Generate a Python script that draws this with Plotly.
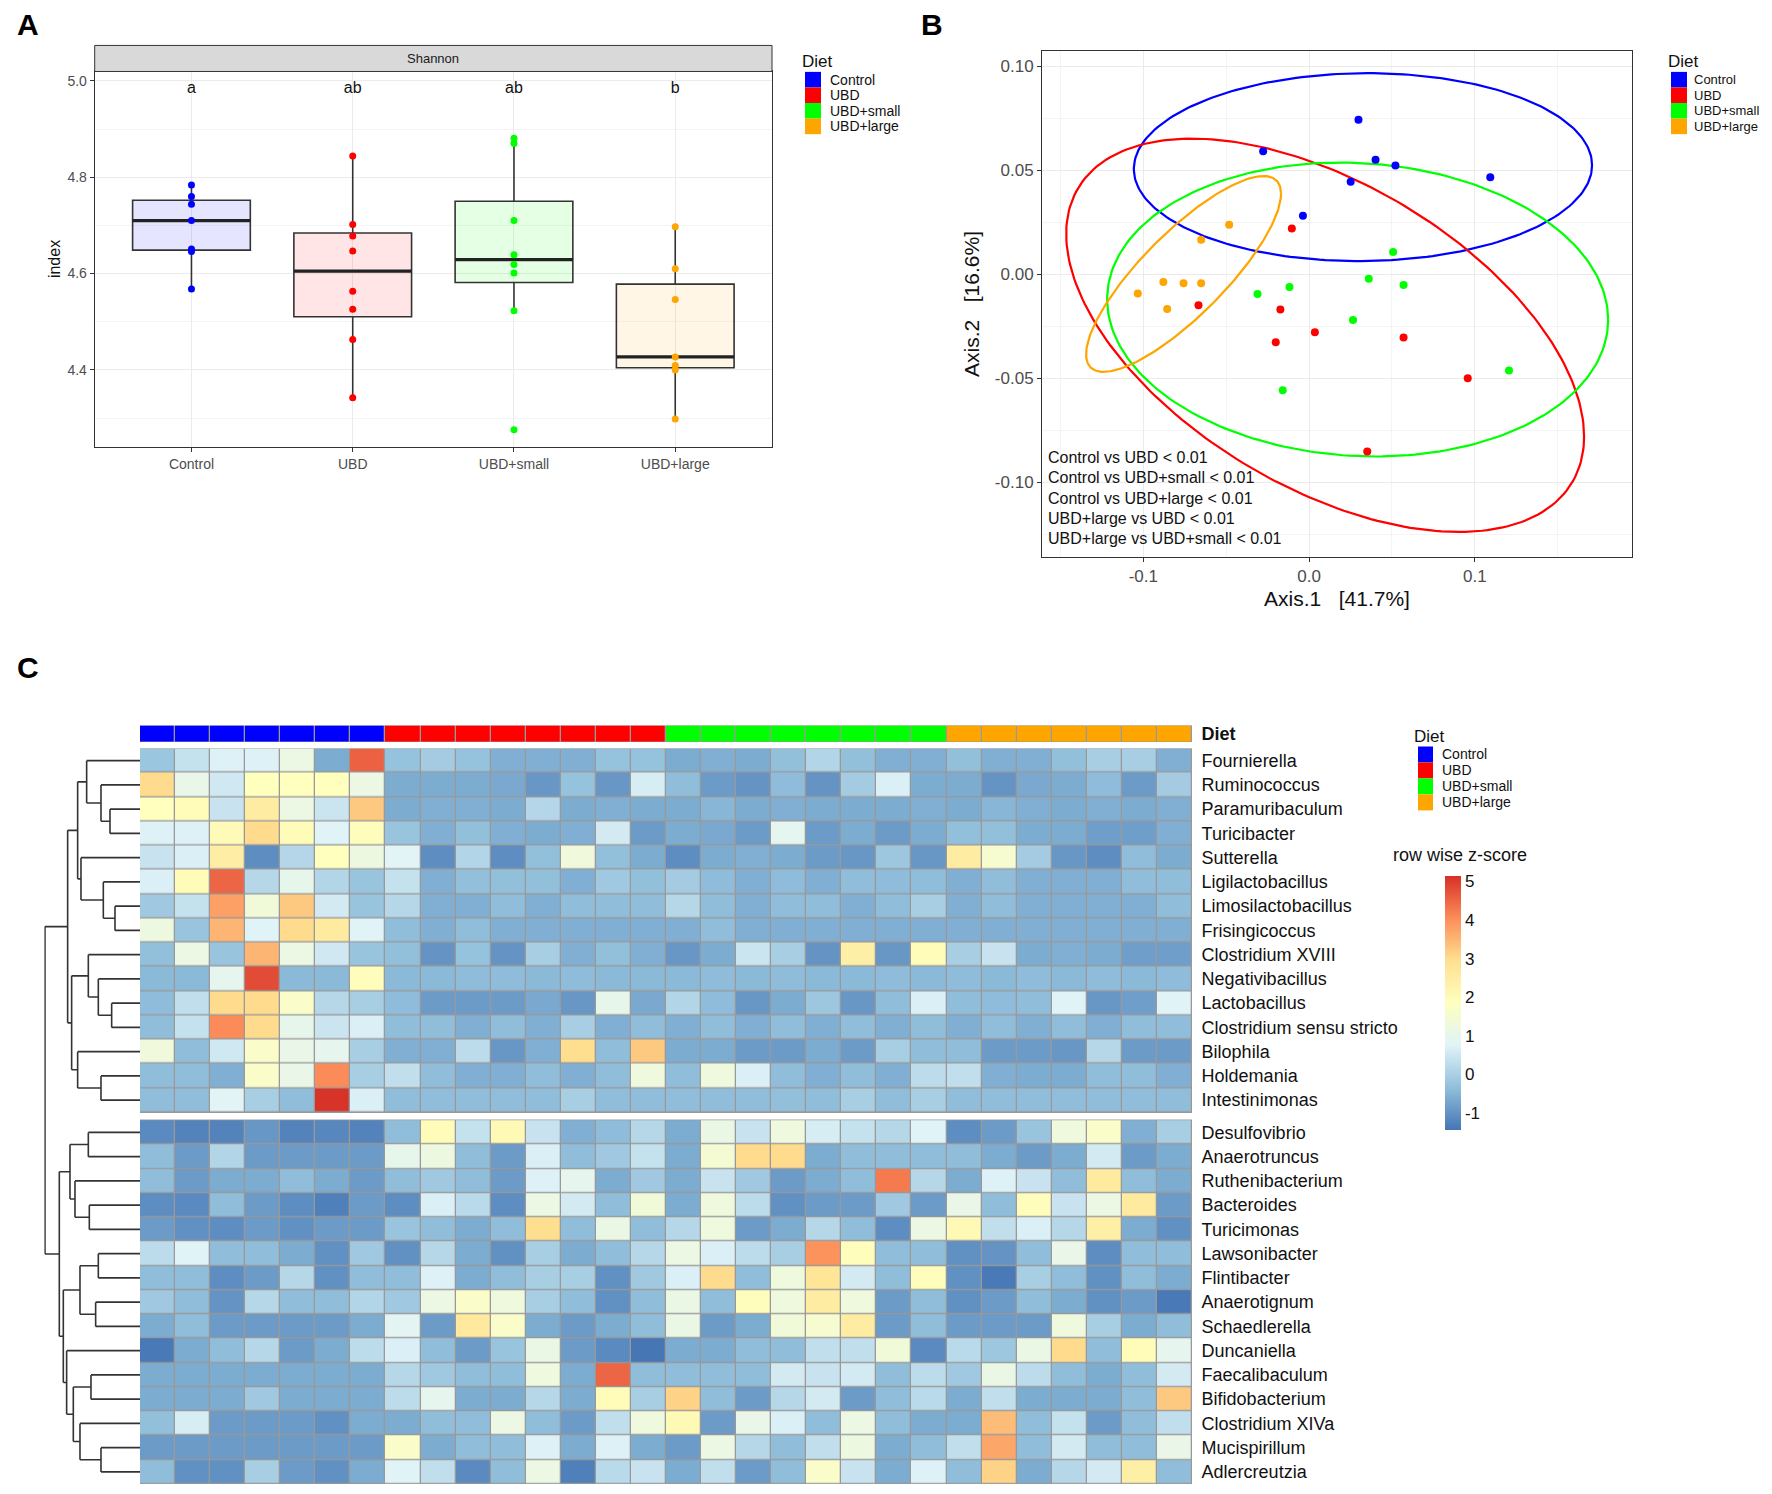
import numpy as np
import plotly.graph_objects as go

W, H = 1772, 1494          # browser window
PAGE_MARGIN = 8            # default <body> margin of the written page
FW, FH = W - 2 * PAGE_MARGIN, H - 2 * PAGE_MARGIN
FONT = "Liberation Sans, Arial, Helvetica, sans-serif"

# ---------------- shared groups ----------------
groups = ["Control", "UBD", "UBD+small", "UBD+large"]
group_colors = ["#0000FF", "#FF0000", "#00FF00", "#FFA500"]
box_fill = ["rgba(0,0,255,0.10)", "rgba(255,0,0,0.10)",
            "rgba(0,255,0,0.10)", "rgba(255,165,0,0.10)"]

# ---------------- Panel A data (Shannon index) ----------------
shannon_control = [4.784, 4.760, 4.744, 4.710, 4.651, 4.646, 4.568]
shannon_ubd = [4.844, 4.702, 4.678, 4.647, 4.563, 4.526, 4.463, 4.342]
shannon_small = [4.881, 4.870, 4.710, 4.639, 4.619, 4.601, 4.523, 4.276]
shannon_large = [4.697, 4.610, 4.546, 4.427, 4.409, 4.400, 4.298]
sig_letters = ["a", "ab", "ab", "b"]
sig_letter_y = 4.982
shannon_yticks = [4.4, 4.6, 4.8, 5.0]

# ---------------- Panel B data (PCoA) ----------------
pcoa_x_control = [0.0298, -0.0277, 0.0401, 0.0521, 0.0251, 0.1093, -0.0037]
pcoa_y_control = [0.0744, 0.0592, 0.0551, 0.0524, 0.0446, 0.0467, 0.0282]
pcoa_x_ubd = [-0.0104, -0.0667, -0.0173, -0.0201, 0.0035, 0.0570, 0.0957, 0.0351]
pcoa_y_ubd = [0.0221, -0.0148, -0.0169, -0.0326, -0.0279, -0.0304, -0.0500, -0.0852]
pcoa_x_small = [0.0507, 0.0360, 0.0570, -0.0118, -0.0311, 0.0265, 0.1206, -0.0159]
pcoa_y_small = [0.0108, -0.0021, -0.0051, -0.0061, -0.0094, -0.0220, -0.0462, -0.0557]
pcoa_x_large = [-0.0482, -0.0651, -0.0879, -0.0757, -0.0651, -0.1033, -0.0856]
pcoa_y_large = [0.0239, 0.0167, -0.0037, -0.0043, -0.0043, -0.0092, -0.0167]
# 95% ellipses: centre, half x-extent, half y-extent, correlation
ell_cx = [0.0325, 0.0097, 0.0293, -0.0757]
ell_cy = [0.0516, -0.0293, -0.0169, 0.0002]
ell_w = [0.1382, 0.1562, 0.1511, 0.0588]
ell_h = [0.0452, 0.0946, 0.0707, 0.0471]
ell_rho = [0.02, -0.515, -0.07, 0.82]
pcoa_stats = ["Control vs UBD < 0.01",
              "Control vs UBD+small < 0.01",
              "Control vs UBD+large < 0.01",
              "UBD+large vs UBD < 0.01",
              "UBD+large vs UBD+small < 0.01"]
axis1_label = "Axis.1\u00a0\u00a0\u00a0[41.7%]"
axis2_label = "Axis.2\u00a0\u00a0\u00a0[16.6%]"
pcoa_xticks = [-0.1, 0.0, 0.1]
pcoa_yticks = [-0.10, -0.05, 0.0, 0.05, 0.10]

# ---------------- Panel C data (heatmap) ----------------
sample_diet = ["Control"] * 7 + ["UBD"] * 8 + ["UBD+small"] * 8 + ["UBD+large"] * 7
genus_upper = ["Fournierella", "Ruminococcus", "Paramuribaculum", "Turicibacter",
               "Sutterella", "Ligilactobacillus", "Limosilactobacillus",
               "Frisingicoccus", "Clostridium XVIII", "Negativibacillus",
               "Lactobacillus", "Clostridium sensu stricto", "Bilophila",
               "Holdemania", "Intestinimonas"]
genus_lower = ["Desulfovibrio", "Anaerotruncus", "Ruthenibacterium", "Bacteroides",
               "Turicimonas", "Lawsonibacter", "Flintibacter", "Anaerotignum",
               "Schaedlerella", "Duncaniella", "Faecalibaculum", "Bifidobacterium",
               "Clostridium XIVa", "Mucispirillum", "Adlercreutzia"]
z_upper = [
    [-0.22, 0.35, 0.7, 0.7, 1.15, -0.65, 4.55, -0.3, -0.1, -0.3, -0.6, -0.6, -0.6, -0.3, -0.3, -0.65, -0.6, -0.65, -0.35, 0.1, -0.35, -0.6, -0.6, -0.35, -0.6, -0.6, -0.35, -0.05, -0.05, -0.6],
    [3.0, 1.05, 0.5, 1.85, 1.85, 1.85, 1.15, -0.65, -0.65, -0.65, -0.7, -0.95, -0.3, -0.95, 0.6, -0.38, -0.9, -1.0, -0.4, -1.0, -0.1, 0.65, -0.65, -0.65, -1.0, -0.7, -0.65, -0.4, -0.9, -0.1],
    [1.85, 1.95, 0.4, 2.5, 1.15, 0.45, 3.25, -0.65, -0.6, -0.6, -0.65, 0.12, -0.65, -0.6, -0.65, -0.65, -0.5, -0.65, -0.6, -0.65, -0.65, -0.65, -0.6, -0.65, -0.5, -0.6, -0.65, -0.6, -0.65, -0.6],
    [0.7, 0.7, 2.0, 3.0, 1.95, 0.75, 1.9, -0.25, -0.6, -0.35, -0.6, -0.65, -0.6, 0.55, -0.9, -0.65, -0.7, -0.9, 0.9, -0.9, -0.65, -0.9, -0.65, -0.35, -0.35, -0.65, -0.65, -0.85, -0.85, -0.6],
    [0.4, 0.65, 2.45, -1.1, 0.12, 1.85, 1.2, 0.8, -1.1, 0.1, -1.1, -0.35, 1.3, -0.35, -0.65, -1.1, -0.65, -0.6, -0.65, -0.9, -0.95, -0.2, -0.95, 2.5, 1.5, -0.1, -0.95, -1.1, -0.38, -0.65],
    [0.65, 1.95, 4.5, 0.14, 1.0, 0.1, -0.25, 0.35, -0.6, -0.35, -0.35, -0.35, -0.6, -0.15, -0.35, -0.1, -0.4, -0.6, -0.4, -0.6, -0.38, -0.4, -0.38, -0.6, -0.38, -0.6, -0.6, -0.6, -0.38, -0.38],
    [-0.15, 0.35, 3.78, 1.35, 3.25, 0.55, -0.25, 0.14, -0.6, -0.6, -0.38, -0.6, -0.38, -0.38, -0.38, 0.14, -0.38, -0.6, -0.38, -0.38, -0.6, -0.38, -0.05, -0.6, -0.38, -0.6, -0.6, -0.6, -0.6, -0.38],
    [1.2, -0.25, 3.5, 0.75, 3.0, 2.55, 0.75, -0.38, -0.6, -0.38, -0.6, -0.6, -0.6, -0.6, -0.6, -0.6, -0.38, -0.6, -0.6, -0.6, -0.6, -0.6, -0.6, -0.6, -0.6, -0.6, -0.6, -0.6, -0.6, -0.6],
    [-0.35, 1.15, -0.25, 3.5, 1.15, 0.5, -0.25, -0.35, -1.0, -0.3, -1.0, -0.05, -0.6, -0.35, -0.6, -0.95, -0.65, 0.45, -0.05, -1.0, 2.4, -0.95, 1.95, -0.05, 0.4, -0.65, -0.6, -0.65, -0.85, -0.85],
    [-0.45, -0.45, 0.95, 4.8, -0.45, -0.45, 1.9, -0.45, -0.45, -0.4, -0.4, -0.45, -0.4, -0.45, -0.45, -0.45, -0.4, -0.45, -0.4, -0.45, -0.45, -0.4, -0.45, -0.4, -0.45, -0.4, -0.45, -0.4, -0.45, -0.4],
    [-0.4, 0.3, 3.0, 3.0, 1.65, 0.14, -0.05, -0.4, -0.9, -0.9, -0.9, -0.7, -0.95, 1.0, -0.7, 0.1, -0.4, -0.95, -0.65, -0.2, -0.95, -0.38, 0.65, -0.38, -0.4, -0.38, 0.75, -0.95, -0.85, 0.75],
    [-0.38, 0.35, 4.05, 3.0, 1.0, 0.45, 0.65, -0.38, -0.38, -0.6, -0.38, -0.6, -0.05, -0.6, -0.38, -0.6, -0.38, -0.6, -0.38, -0.6, -0.38, -0.6, -0.38, -0.6, -0.38, -0.6, -0.38, -0.6, -0.38, -0.38],
    [1.3, -0.38, 0.5, 1.65, 1.05, 0.95, -0.05, -0.6, -0.6, 0.25, -0.95, -0.6, 2.95, -0.38, 3.25, -0.65, -0.65, -0.9, -0.9, -0.65, -0.9, -0.05, -0.38, -0.38, -0.9, -0.9, -0.95, 0.14, -0.9, -0.9],
    [-0.38, -0.38, -0.6, 1.65, 1.05, 4.05, -0.05, 0.3, -0.38, -0.6, -0.6, -0.38, -0.6, -0.38, 1.25, -0.38, 1.25, 0.65, -0.38, -0.6, -0.38, -0.6, 0.25, 0.3, -0.6, -0.65, -0.65, -0.38, -0.38, -0.6],
    [-0.38, -0.38, 0.8, -0.05, -0.38, 5.1, 0.65, -0.38, -0.38, -0.38, -0.38, -0.38, -0.05, -0.38, -0.38, -0.38, -0.38, -0.38, -0.35, -0.38, -0.05, -0.38, -0.05, -0.38, -0.38, -0.38, -0.38, -0.38, -0.38, -0.38],
]
z_lower = [
    [-1.15, -1.25, -1.25, -0.95, -1.25, -1.2, -1.25, -0.38, 1.95, 0.35, 2.05, 0.4, -0.6, -0.4, 0.14, -0.65, 1.1, 0.4, 1.25, 0.6, 0.35, 0.14, 0.75, -1.1, -0.9, -0.25, 1.25, 1.65, -0.6, -0.05],
    [-0.38, -0.9, 0.1, -0.9, -0.9, -0.9, -0.9, 1.0, 1.2, -0.38, -0.9, 0.65, -0.38, -0.15, 0.35, -0.65, 1.45, 3.0, 3.0, -0.65, -0.38, -0.38, -0.38, -0.38, -0.65, -0.9, -0.65, 0.55, -0.9, -0.65],
    [-0.38, -0.9, -0.65, -0.65, -0.38, -0.65, -0.9, -0.38, -0.15, -0.38, -0.9, 0.7, 0.95, -0.65, -0.15, -0.65, 0.4, -0.15, -0.9, -0.65, -0.38, 4.25, 0.14, -0.65, 0.7, 0.4, -0.38, 2.55, -0.38, -0.65],
    [-1.1, -1.15, -0.38, -0.9, -1.1, -1.3, -0.9, -1.1, 0.65, 0.2, -1.1, 1.15, 0.55, -0.38, 1.35, -0.65, 1.25, 0.25, -1.05, -0.9, -0.9, -0.15, -0.9, 1.05, -0.38, 1.9, 0.4, 1.15, 2.55, -0.9],
    [-0.9, -1.05, -1.1, -0.9, -1.05, -0.9, -0.9, -0.25, -0.38, -0.65, -0.38, 2.95, -0.38, 1.1, -0.38, 0.14, 1.25, -0.9, -0.65, 0.14, -0.38, -1.1, 1.15, 2.05, 0.3, 0.65, 0.14, 2.4, -0.65, -1.05],
    [0.25, 0.75, -0.38, -0.38, -0.65, -1.05, -0.15, -1.05, 0.14, -0.65, -1.05, -0.05, -0.65, -0.38, 0.14, 1.15, 0.65, 0.25, -0.05, 3.95, 1.9, -0.38, -0.38, -1.05, -1.0, -0.38, 1.05, -1.1, -0.38, -0.38],
    [-0.38, -0.38, -1.1, -0.9, 0.14, -1.05, -0.38, -0.38, 0.7, -0.65, -0.38, -0.05, -0.05, -1.05, -0.15, 0.65, 3.0, -0.38, 1.25, 2.75, 0.55, -0.38, 1.9, -1.05, -1.4, -0.05, -0.38, -1.05, -0.38, -0.65],
    [-0.15, -0.38, -1.0, 0.14, -0.38, -0.38, 0.1, -0.15, 1.15, 1.65, 1.25, -0.05, -0.38, -1.05, -0.38, 1.1, -0.38, 1.9, 1.25, 2.5, 1.25, -0.9, -0.38, -1.05, -0.9, -0.38, -0.65, -1.05, -0.9, -1.4],
    [-0.65, -0.38, -0.9, -0.9, -0.9, -0.9, -0.65, 0.85, -0.9, 2.6, 1.65, -0.65, -0.9, -0.65, -0.38, 1.1, -0.9, -0.65, 1.35, 1.5, 2.5, -0.9, -0.38, -0.9, -0.9, -0.9, 1.25, -0.05, -0.65, -0.38],
    [-1.4, -0.65, -0.38, 0.14, -0.9, -0.65, 0.25, 0.65, -0.38, -0.9, -0.25, 1.1, -0.9, -1.15, -1.45, -0.65, -0.65, -0.38, -0.38, 0.3, 0.3, 1.35, -1.15, 0.2, -0.2, 1.1, 3.0, -0.38, 1.95, 0.95],
    [-0.65, -0.65, -0.65, -0.65, -0.65, -0.65, -0.65, 0.14, -0.15, -0.38, -0.38, 1.25, -0.65, 4.5, -0.38, -0.38, -0.38, -0.38, 0.55, 0.4, 0.55, -0.38, 0.25, -0.15, 1.1, 0.25, -0.38, -0.65, -0.38, 0.55],
    [-0.65, -0.65, -0.65, -0.15, -0.65, -0.65, -0.65, 0.25, 0.95, -0.65, -0.65, 0.14, -0.65, 1.95, -0.05, 3.1, -0.38, -0.9, 0.14, 0.55, -0.9, -0.38, 0.2, -0.65, 0.3, -0.65, -0.65, -0.65, -0.38, 3.25],
    [-0.35, 0.6, -0.9, -0.9, -0.9, -1.05, -0.65, -0.65, -0.38, -0.38, 1.15, -0.38, -0.9, 0.3, 1.25, 2.05, -0.9, 1.05, 0.65, -0.38, 1.15, -0.38, -0.65, -0.65, 3.4, -0.38, 0.35, -0.9, -0.38, 0.3],
    [-0.9, -0.9, -0.9, -0.9, -0.9, -0.9, -0.9, 1.65, -0.65, -0.38, -0.38, 0.7, -0.65, 0.7, -0.65, -0.9, 1.15, 0.14, -0.38, 0.3, 1.2, -0.65, -0.38, 0.3, 3.7, -0.38, 0.55, -0.38, -0.38, 1.05],
    [-0.38, -1.05, -1.05, -0.05, -0.9, -1.05, -0.65, 0.75, 0.3, -1.15, -0.38, 1.15, -1.3, 0.2, 0.4, -0.65, 0.3, -0.9, -0.38, 1.65, 0.4, -0.65, 0.7, -0.38, 3.1, -0.65, 0.14, 0.55, 2.4, -0.38],
]
# row dendrogram as a merge list: (child a, child b, height); leaves 0..29, new nodes 30..
row_merges = [
    (2, 3, 90), (1, 30, 117), (0, 31, 160), (6, 7, 75), (5, 33, 110), (4, 34, 177),
    (32, 35, 187), (10, 11, 85), (9, 37, 125), (8, 38, 155), (13, 14, 117),
    (12, 40, 187), (39, 41, 205), (36, 42, 217),
    (15, 16, 155), (18, 19, 152), (17, 45, 195), (44, 46, 210), (20, 21, 125),
    (22, 23, 133), (48, 49, 180), (25, 26, 147), (28, 29, 117), (27, 52, 180),
    (51, 53, 200), (24, 54, 220), (50, 55, 230), (47, 56, 242), (43, 57, 285),
]
zscore_min, zscore_max = -1.46, 5.13
zscore_ticks = [-1, 0, 1, 2, 3, 4, 5]
heat_colors = ["#4575B4", "#91BFDB", "#E0F3F8", "#FFFFBF", "#FEE090", "#FC8D59", "#D73027"]


# ---------------- helpers: page pixel -> paper fraction ----------------
def px(x):
    return (x - PAGE_MARGIN) / FW


def py(y):
    return 1 - (y - PAGE_MARGIN) / FH


fig = go.Figure()
shapes = []
annotations = []


def note(text, x, y, size, xanchor="center", yanchor="middle", angle=0, color="#111111"):
    annotations.append(dict(text=text, x=px(x), y=py(y), xref="paper", yref="paper",
                            xanchor=xanchor, yanchor=yanchor, showarrow=False,
                            textangle=angle, font=dict(size=size, color=color)))


# ================= Panel A =================
for i, vals in enumerate([shannon_control, shannon_ubd, shannon_small, shannon_large]):
    v = np.array(vals)
    q1, med, q3 = np.percentile(v, [25, 50, 75])
    iqr = q3 - q1
    lf = v[v >= q1 - 1.5 * iqr].min()
    uf = v[v <= q3 + 1.5 * iqr].max()
    fig.add_trace(go.Box(x=[i], q1=[q1], median=[med], q3=[q3], lowerfence=[lf],
                         upperfence=[uf], width=0.73, whiskerwidth=0,
                         fillcolor=box_fill[i], line=dict(color="#333333", width=1.6),
                         boxpoints=False, showlegend=False, hoverinfo="skip",
                         xaxis="x", yaxis="y"))
    fig.add_trace(go.Scatter(x=[i - 0.365, i + 0.365], y=[med, med], mode="lines",
                             line=dict(color="#222222", width=3.2), showlegend=False,
                             hoverinfo="skip", xaxis="x", yaxis="y"))
for i, vals in enumerate([shannon_control, shannon_ubd, shannon_small, shannon_large]):
    fig.add_trace(go.Scatter(x=[i] * len(vals), y=vals, mode="markers",
                             marker=dict(color=group_colors[i], size=7),
                             showlegend=False, xaxis="x", yaxis="y"))
fig.add_trace(go.Scatter(x=list(range(4)), y=[sig_letter_y] * 4, text=sig_letters,
                         mode="text", textfont=dict(size=16, color="#111111"),
                         showlegend=False, xaxis="x", yaxis="y"))

A_x0, A_x1, A_y0, A_y1 = 94.7, 772.0, 70.6, 446.6
grid_major = "#EBEBEB"
grid_minor = "#F4F4F4"
axis_common = dict(showline=True, mirror=True, linecolor="#333333", linewidth=1,
                   zeroline=False, ticks="outside", ticklen=4, tickcolor="#333333",
                   gridcolor=grid_major, gridwidth=1.1)
fig.update_layout(
    xaxis=dict(domain=[px(A_x0), px(A_x1)], range=[-0.6, 3.6], tickvals=list(range(4)),
               ticktext=groups, tickfont=dict(size=14, color="#4D4D4D"),
               anchor="y", **axis_common),
    yaxis=dict(domain=[py(A_y1), py(A_y0)], range=[4.2406, 5.0194],
               tickvals=shannon_yticks, ticktext=[f"{t:.1f}" for t in shannon_yticks],
               tickfont=dict(size=14, color="#4D4D4D"), anchor="x",
               minor=dict(tickvals=[4.3, 4.5, 4.7, 4.9], showgrid=True,
                          gridcolor=grid_minor, gridwidth=0.7),
               **axis_common),
)
# facet strip
shapes.append(dict(type="rect", xref="paper", yref="paper", x0=px(A_x0), x1=px(A_x1),
                   y0=py(A_y0), y1=py(44.5), fillcolor="#D9D9D9",
                   line=dict(color="#333333", width=1)))
note("Shannon", (A_x0 + A_x1) / 2, 57.5, 13, color="#1A1A1A")
note("index", 54, (A_y0 + A_y1) / 2, 16, angle=-90)

# ================= Panel B =================
pcoa_sets = [(pcoa_x_control, pcoa_y_control), (pcoa_x_ubd, pcoa_y_ubd),
             (pcoa_x_small, pcoa_y_small), (pcoa_x_large, pcoa_y_large)]
t = np.linspace(0, 2 * np.pi, 240)
for i in range(4):
    ex = ell_cx[i] + ell_w[i] * np.cos(t)
    ey = ell_cy[i] + ell_h[i] * (ell_rho[i] * np.cos(t) + np.sqrt(1 - ell_rho[i] ** 2) * np.sin(t))
    fig.add_trace(go.Scatter(x=ex, y=ey, mode="lines",
                             line=dict(color=group_colors[i], width=2.2),
                             showlegend=False, hoverinfo="skip", xaxis="x2", yaxis="y2"))
for i, (xs_, ys_) in enumerate(pcoa_sets):
    fig.add_trace(go.Scatter(x=xs_, y=ys_, mode="markers",
                             marker=dict(color=group_colors[i], size=8),
                             showlegend=False, xaxis="x2", yaxis="y2"))

B_x0, B_x1, B_y0, B_y1 = 1042.0, 1632.0, 50.0, 557.0
fig.update_layout(
    xaxis2=dict(domain=[px(B_x0), px(B_x1)], range=[-0.1611, 0.1948],
                tickvals=pcoa_xticks, ticktext=[f"{v:.1f}" for v in pcoa_xticks],
                tickfont=dict(size=17, color="#4D4D4D"), anchor="y2",
                minor=dict(tickvals=[-0.15, -0.05, 0.05, 0.15], showgrid=True,
                           gridcolor=grid_minor, gridwidth=0.7),
                **axis_common),
    yaxis2=dict(domain=[py(B_y1), py(B_y0)], range=[-0.1359, 0.1075],
                tickvals=pcoa_yticks, ticktext=[f"{v:.2f}" for v in pcoa_yticks],
                tickfont=dict(size=17, color="#4D4D4D"), anchor="x2",
                minor=dict(tickvals=[-0.125, -0.075, -0.025, 0.025, 0.075], showgrid=True,
                           gridcolor=grid_minor, gridwidth=0.7),
                **axis_common),
)
note(axis1_label, (B_x0 + B_x1) / 2, 599, 21)
note(axis2_label, 972, (B_y0 + B_y1) / 2, 21, angle=-90)
for k, line in enumerate(pcoa_stats):
    note(line, 1046, 457 + k * 20.5, 16, xanchor="left")

# ================= Panel C =================
n_cols = len(sample_diet)
cols = list(range(n_cols))
gap = 0.33
pos_upper = list(range(len(genus_upper)))
pos_lower = [len(genus_upper) + gap + i for i in range(len(genus_lower))]
y_range = [pos_lower[-1] + 0.5, -0.5]

# annotation bar
diet_code = [groups.index(d) for d in sample_diet]
disc_scale = [[0, group_colors[0]], [0.25, group_colors[0]], [0.25, group_colors[1]],
              [0.5, group_colors[1]], [0.5, group_colors[2]], [0.75, group_colors[2]],
              [0.75, group_colors[3]], [1, group_colors[3]]]
fig.add_trace(go.Heatmap(z=[diet_code], x=cols, y=[0], zmin=-0.5, zmax=3.5,
                         colorscale=disc_scale, showscale=False, xgap=1.3,
                         hoverinfo="skip", xaxis="x3", yaxis="y3"))
# main heatmap
heat_scale = [[k / 6, c] for k, c in enumerate(heat_colors)]
fig.add_trace(go.Heatmap(z=z_upper, x=cols, y=pos_upper, coloraxis="coloraxis",
                         xgap=1.3, ygap=1.3, xaxis="x4", yaxis="y4"))
fig.add_trace(go.Heatmap(z=z_lower, x=cols, y=pos_lower, coloraxis="coloraxis",
                         xgap=1.3, ygap=1.3, xaxis="x4", yaxis="y4"))

# dendrogram from merge list
leaf_pos = pos_upper + pos_lower
node_y = {i: leaf_pos[i] for i in range(len(leaf_pos))}
node_h = {i: 0.0 for i in range(len(leaf_pos))}
dx, dy = [], []
for k, (a, b, h) in enumerate(row_merges):
    nid = len(leaf_pos) + k
    for c in (a, b):
        dx += [node_h[c], h, None]
        dy += [node_y[c], node_y[c], None]
    dx += [h, h, None]
    dy += [node_y[a], node_y[b], None]
    node_y[nid] = (node_y[a] + node_y[b]) / 2
    node_h[nid] = h
fig.add_trace(go.Scatter(x=dx, y=dy, mode="lines", line=dict(color="#333333", width=1.6),
                         showlegend=False, hoverinfo="skip", xaxis="x5", yaxis="y5"))

C_x0, C_x1 = 140.0, 1192.0
C_bar0, C_bar1 = 726.0, 742.4
C_y0, C_y1 = 749.0, 1486.0
D_x0 = 44.3
hidden = dict(showgrid=False, zeroline=False, showticklabels=False, ticks="",
              showline=False)
fig.update_layout(
    xaxis3=dict(domain=[px(C_x0), px(C_x1)], range=[-0.5, n_cols - 0.5], anchor="y3",
                **hidden),
    yaxis3=dict(domain=[py(C_bar1), py(C_bar0)], range=[-0.5, 0.5], anchor="x3",
                side="right", tickvals=[0], ticktext=["<b>Diet</b>"], ticks="outside",
                ticklen=5, tickcolor="rgba(0,0,0,0)", showgrid=False, zeroline=False,
                showline=False, tickfont=dict(size=18, color="#111111")),
    xaxis4=dict(domain=[px(C_x0), px(C_x1)], range=[-0.5, n_cols - 0.5], anchor="y4",
                **hidden),
    yaxis4=dict(domain=[py(C_y1), py(C_y0)], range=y_range, anchor="x4", side="right",
                tickvals=pos_upper + pos_lower, ticktext=genus_upper + genus_lower,
                ticks="outside", ticklen=5, tickcolor="rgba(0,0,0,0)", showgrid=False,
                zeroline=False, showline=False,
                tickfont=dict(size=18, color="#111111")),
    xaxis5=dict(domain=[px(D_x0), px(C_x0)], range=[287, 0], anchor="y5", **hidden),
    yaxis5=dict(domain=[py(C_y1), py(C_y0)], range=y_range, anchor="x5", **hidden),
    coloraxis=dict(colorscale=heat_scale, cmin=zscore_min, cmax=zscore_max,
                   colorbar=dict(x=px(1445), xanchor="left", y=py(1004.5),
                                 yanchor="middle", len=255 / FH, lenmode="fraction",
                                 thickness=16, thicknessmode="pixels", xpad=0, ypad=0,
                                 outlinewidth=0, tickvals=zscore_ticks,
                                 ticktext=[str(v) for v in zscore_ticks], ticks="",
                                 tickfont=dict(size=17, color="#111111"))),
)
# grey cell borders (behind the heatmap cells)
for y0, y1 in [(-0.5, pos_upper[-1] + 0.5), (pos_lower[0] - 0.5, pos_lower[-1] + 0.5)]:
    shapes.append(dict(type="rect", xref="x4", yref="y4", x0=-0.5, x1=n_cols - 0.5,
                       y0=y0, y1=y1, fillcolor="#999999",
                       line=dict(color="#999999", width=1.3), layer="below"))
shapes.append(dict(type="rect", xref="x3", yref="y3", x0=-0.5, x1=n_cols - 0.5,
                   y0=-0.5, y1=0.5, fillcolor="#999999",
                   line=dict(color="#999999", width=1.3), layer="below"))
note("row wise z-score", 1460, 856, 18)


# ================= legends =================
def add_legend(title_x, title_y, key_x, key_top, key_w, pitch, label_x, label_size=14):
    note("Diet", title_x, title_y, 17, xanchor="left")
    for k, (g, c) in enumerate(zip(groups, group_colors)):
        top = key_top + k * pitch
        shapes.append(dict(type="rect", xref="paper", yref="paper", x0=px(key_x),
                           x1=px(key_x + key_w), y0=py(top + pitch), y1=py(top),
                           fillcolor=c, line=dict(width=0)))
        note(g, label_x, top + pitch / 2, label_size, xanchor="left")


add_legend(800, 61, 805, 71, 16, 15.6, 828)
add_legend(1666, 61, 1671, 71, 16, 15.6, 1692, label_size=13)
add_legend(1412, 737, 1418, 747, 15, 16, 1440)

# panel letters
for letter, lx, ly in [("A", 28, 24), ("B", 932, 24), ("C", 28, 668)]:
    note(f"<b>{letter}</b>", lx, ly, 30, color="#000000")

fig.update_layout(width=FW, height=FH, margin=dict(l=0, r=0, t=0, b=0),
                  paper_bgcolor="white", plot_bgcolor="white",
                  font=dict(family=FONT, color="#111111"), showlegend=False,
                  shapes=shapes, annotations=annotations)

fig.write_html("out.html")
